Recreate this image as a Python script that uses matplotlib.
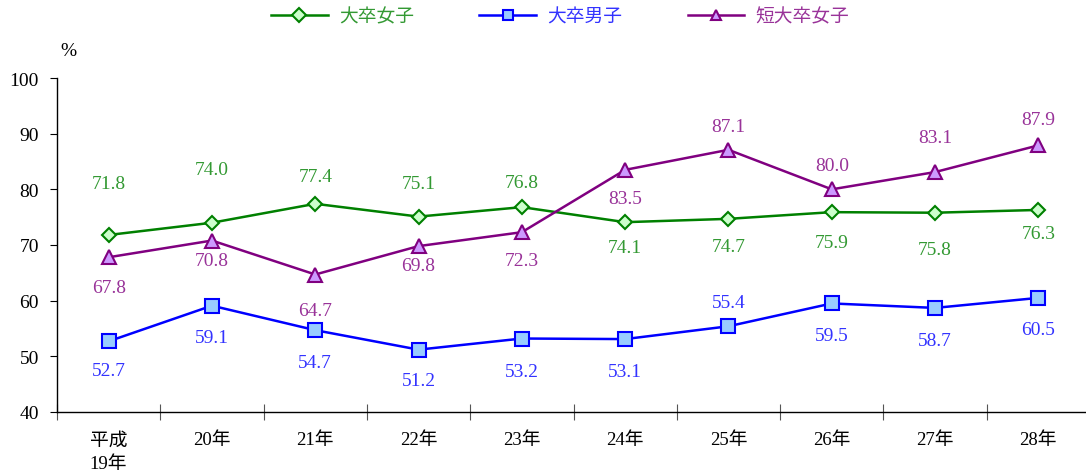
import matplotlib
matplotlib.use("Agg")
import matplotlib.pyplot as plt
from matplotlib.ticker import FixedLocator, NullFormatter

plt.rcParams['font.family'] = ['Liberation Serif', 'Noto Sans CJK JP', 'DejaVu Sans']

# データ
years = ["平成\n19年", "20年", "21年", "22年", "23年", "24年", "25年", "26年", "27年", "28年"]
univ_women = [71.8, 74.0, 77.4, 75.1, 76.8, 74.1, 74.7, 75.9, 75.8, 76.3]
univ_men = [52.7, 59.1, 54.7, 51.2, 53.2, 53.1, 55.4, 59.5, 58.7, 60.5]
junior_women = [67.8, 70.8, 64.7, 69.8, 72.3, 83.5, 87.1, 80.0, 83.1, 87.9]

# ラベルの縦方向オフセット (px, 下向き正)
off_uw = [-51, -53, -27, -33, -25, 25, 28, 30, 37, 24]
off_um = [29, 32, 32, 31, 33, 32, -24, 32, 33, 32]
off_jw = [30, 20, 36, 19, 28, 29, -23, -24, -35, -26]

fig = plt.figure(figsize=(10.86, 4.77), dpi=100)
ax = fig.add_axes([57 / 1086, 1 - 413 / 477, (1090 - 57) / 1086, (413 - 79) / 477])

x = list(range(len(years)))
series = [
    ("大卒女子", univ_women, off_uw, "#008000", "#ccffcc", "D", 7.5, "#339933"),
    ("大卒男子", univ_men, off_um, "#0000ff", "#99ccff", "s", 9.5, "#3333ff"),
    ("短大卒女子", junior_women, off_jw, "#800080", "#cc99ff", "^", 10, "#993399"),
]
for name, vals, offs, col, face, mk, ms, tcol in series:
    ax.plot(x, vals, color=col, lw=1.8, marker=mk, ms=ms, mfc=face, mec=col,
            mew=1.5, label=name, clip_on=False)
    for xi, v, o in zip(x, vals, offs):
        ax.annotate(f"{v:.1f}", (xi, v), xytext=(0, -o * 0.72), textcoords="offset points",
                    ha="center", va="center", fontsize=14, color=tcol)

ax.set_xlim(-0.5, 9.5)
ax.set_ylim(40, 100)
ax.set_yticks(range(40, 101, 10))
ax.tick_params(axis="y", labelsize=14, direction="out", length=5, pad=8)
ax.set_xticks(x)
ax.set_xticklabels(years, fontsize=13.5, linespacing=1.5)
ax.tick_params(axis="x", which="major", length=0, pad=14)
ax.xaxis.set_minor_locator(FixedLocator([i + 0.5 for i in range(-1, 10)]))
ax.xaxis.set_minor_formatter(NullFormatter())
ax.tick_params(axis="x", which="minor", direction="inout", length=11, width=0.8, color="#555555")
for s in ["top", "right"]:
    ax.spines[s].set_visible(False)
ax.spines["left"].set_linewidth(1.0)
ax.spines["bottom"].set_linewidth(1.0)

fig.text(68 / 1086, 1 - 52 / 477, "%", fontsize=14, ha="center", va="center")

leg = fig.legend(loc="center", bbox_to_anchor=(560 / 1086, 1 - 18 / 477), ncol=3,
                 frameon=False, fontsize=13.5, handlelength=3, columnspacing=3.5,
                 handletextpad=0.6)
for t, (_, _, _, _, _, _, _, tcol) in zip(leg.get_texts(), series):
    t.set_color(tcol)
for h in leg.legend_handles:
    h.set_markersize(7)

fig.savefig("out.png", dpi=100)
